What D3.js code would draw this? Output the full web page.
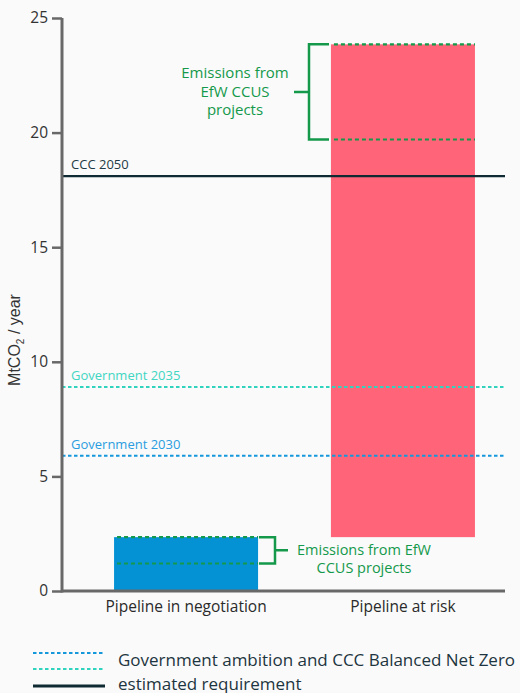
<!DOCTYPE html>
<html>
<head>
<meta charset="utf-8">
<script src="https://cdn.jsdelivr.net/npm/d3@7"></script>
<style>
  html, body { margin: 0; padding: 0; background: #fafafa; }
  svg { display: block; }
  text { font-family: "Open Sans", Lato, sans-serif; }
</style>
</head>
<body>
<svg id="chart" width="520" height="693"></svg>
<script>
// Pipelines and their emissions (MtCO2 / year); the at-risk bar sits on top of the negotiation total
const categories = ["Pipeline in negotiation", "Pipeline at risk"];
const pipelineValues = [2.35, 21.5];
const efwValues = [1.15, 4.15];            // EfW CCUS share, at the top of each bar
const refLabels = ["CCC 2050", "Government 2035", "Government 2030"];
const refValues = [18.1, 8.9, 5.9];
const yTicks = [0, 5, 10, 15, 20, 25];
const legendLabels = ["Government ambition and CCC Balanced Net Zero", "estimated requirement"];

const svg = d3.select("#chart");
const green = "#14994b";
const dark = "#0f2a33";
const font = "'Open Sans', Lato, sans-serif";

const y = d3.scaleLinear().domain([0, 25]).range([591, 18]);
const x = d3.scaleBand().domain(categories).range([62, 527]).paddingInner(0.336).paddingOuter(0.24);
const plotRight = 505;

// stacked extents
const bars = categories.map((c, i) => {
  const base = i === 0 ? 0 : pipelineValues[0];
  return { cat: c, y0: base, y1: base + pipelineValues[i], efw0: base + pipelineValues[i] - efwValues[i] };
});
const barColors = ["#0592d5", "#ff6479"];

svg.selectAll("rect.bar").data(bars).join("rect")
  .attr("class", "bar")
  .attr("x", d => x(d.cat))
  .attr("width", x.bandwidth())
  .attr("y", d => y(d.y1))
  .attr("height", d => y(d.y0) - y(d.y1))
  .attr("fill", (d, i) => barColors[i]);

// EfW boundaries inside the bars
bars.forEach(d => {
  [d.y1, d.efw0].forEach(v => {
    svg.append("line")
      .attr("x1", x(d.cat) + 3).attr("x2", x(d.cat) + x.bandwidth())
      .attr("y1", y(v)).attr("y2", y(v))
      .attr("stroke", green).attr("stroke-width", 2.2)
      .attr("stroke-dasharray", "4,3");
  });
});

// reference lines
const refStyles = [
  { color: dark, dash: null, width: 2.2, label: "#1f3a44" },
  { color: "#2fd3be", dash: "3.5,2.5", width: 2.2, label: "#3fd6c2" },
  { color: "#1597dc", dash: "3.5,2.5", width: 2.2, label: "#2a9de0" }
];
refValues.forEach((v, i) => {
  const s = refStyles[i];
  const ln = svg.append("line")
    .attr("x1", 62).attr("x2", plotRight)
    .attr("y1", y(v)).attr("y2", y(v))
    .attr("stroke", s.color).attr("stroke-width", s.width);
  if (s.dash) ln.attr("stroke-dasharray", s.dash);
  svg.append("text")
    .attr("x", 71).attr("y", y(v) - 7)
    .attr("font-size", 13).attr("fill", s.label)
    .text(refLabels[i]);
});

// axes
const yAxis = svg.append("g").attr("transform", "translate(62,0)")
  .call(d3.axisLeft(y).tickValues(yTicks).tickSize(10).tickPadding(4));
yAxis.select(".domain").attr("stroke", "#686868").attr("stroke-width", 3)
  .attr("d", `M0,${y(25)}V${y(0) + 1.5}`);
yAxis.selectAll(".tick line").attr("stroke", "#686868").attr("stroke-width", 2.5);
yAxis.selectAll(".tick text").attr("font-size", 15.5).attr("fill", "#333")
  .attr("font-family", font);

const xAxis = svg.append("g").attr("transform", "translate(0,591)")
  .call(d3.axisBottom(x).tickSize(0).tickPadding(10));
xAxis.select(".domain").attr("stroke", "#686868").attr("stroke-width", 3)
  .attr("d", `M62,0H${plotRight}`);
xAxis.selectAll(".tick text").attr("font-size", 15.5).attr("fill", "#2a2a2a")
  .attr("font-family", font);

// y axis title
const yt = svg.append("text")
  .attr("transform", "translate(20,340) rotate(-90)")
  .attr("text-anchor", "middle")
  .attr("font-size", 16).attr("fill", "#333")
  .style("font-family", "'Liberation Sans', Arial, sans-serif");
yt.append("tspan").text("MtCO");
yt.append("tspan").attr("font-size", 10).attr("dy", 4).text("2");
yt.append("tspan").attr("dy", -4).text(" / year");

// brackets for EfW share
function bracket(top, bottom, xv, armFrom, tickTo) {
  const p = d3.path();
  p.moveTo(armFrom, y(top)); p.lineTo(xv, y(top)); p.lineTo(xv, y(bottom)); p.lineTo(armFrom, y(bottom));
  const mid = (y(top) + y(bottom)) / 2;
  p.moveTo(xv, mid); p.lineTo(tickTo, mid);
  svg.append("path").attr("d", p.toString()).attr("fill", "none")
    .attr("stroke", green).attr("stroke-width", 2.5);
  return mid;
}
const b2 = bars[1];
bracket(b2.y1, b2.efw0, 309, 329, 294);
const b1 = bars[0];
bracket(b1.y1, b1.efw0, 275, 259, 288);

const ann1 = svg.append("text").attr("text-anchor", "middle").attr("font-size", 15).attr("fill", green);
["Emissions from", "EfW CCUS", "projects"].forEach((t, i) => {
  ann1.append("tspan").attr("x", 235).attr("y", 78 + i * 18.5).text(t);
});
const ann2 = svg.append("text").attr("text-anchor", "middle").attr("font-size", 14.5).attr("fill", green);
["Emissions from EfW", "CCUS projects"].forEach((t, i) => {
  ann2.append("tspan").attr("x", 364).attr("y", 555 + i * 18).text(t);
});

// legend
const legendLines = [
  { y: 653, color: "#1597dc", dash: "3.5,2.5", width: 2.2 },
  { y: 669, color: "#2fd3be", dash: "3.5,2.5", width: 2.2 },
  { y: 686, color: dark, dash: null, width: 3 }
];
legendLines.forEach(l => {
  const ln = svg.append("line").attr("x1", 33).attr("x2", 105)
    .attr("y1", l.y).attr("y2", l.y)
    .attr("stroke", l.color).attr("stroke-width", l.width);
  if (l.dash) ln.attr("stroke-dasharray", l.dash);
});
legendLabels.forEach((t, i) => {
  svg.append("text").attr("x", 118).attr("y", 666 + i * 23.5)
    .attr("font-size", 17).attr("fill", "#1d3540").text(t);
});
</script>
</body>
</html>
